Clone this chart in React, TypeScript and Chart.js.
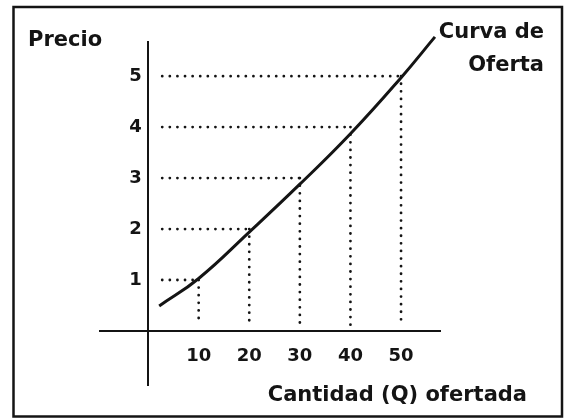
import React, { useEffect, useRef } from "react";
import { Chart, registerables } from "chart.js";

Chart.register(...registerables);

// Supply curve (Curva de Oferta)
const curveQ = [2.2, 10, 20, 30, 40, 50, 56.7];
const curveP = [0.49, 1.03, 1.94, 2.88, 3.87, 4.97, 5.77];

// Marked quantity / price pairs (dotted guides)
const markQ = [10, 20, 30, 40, 50];
const markP = [1, 2, 3, 4, 5];

// Tick labels
const xTicks = [10, 20, 30, 40, 50];
const yTicks = [1, 2, 3, 4, 5];

const yLabel = "Precio";
const xLabel = "Cantidad (Q) ofertada";
const curveLabel = ["Curva de", "Oferta"];

const FONT = '"DejaVu Sans", sans-serif';
const INK = "#141414";

export default function App() {
  const ref = useRef<HTMLCanvasElement | null>(null);

  useEffect(() => {
    if (!ref.current) return;

    const dotted: any[] = [];
    markQ.forEach((q, i) => {
      const p = markP[i];
      dotted.push({
        data: [
          { x: 2.8, y: p },
          { x: q, y: p },
        ],
        borderColor: INK,
        borderWidth: 2.8,
        borderDash: [0, 7.6],
        borderCapStyle: "round",
        pointRadius: 0,
        tension: 0,
      });
      dotted.push({
        data: [
          { x: q, y: p },
          { x: q, y: 0.12 },
        ],
        borderColor: INK,
        borderWidth: 2.8,
        borderDash: [0, 7.6],
        borderCapStyle: "round",
        pointRadius: 0,
        tension: 0,
      });
    });

    const framePlugin = {
      id: "frameAndText",
      beforeDraw(chart: any) {
        const ctx = chart.ctx;
        ctx.save();
        ctx.fillStyle = "#ffffff";
        ctx.fillRect(0, 0, chart.width, chart.height);
        ctx.strokeStyle = INK;
        ctx.lineWidth = 2.5;
        ctx.strokeRect(13.5, 7, 548.5, 409.5);
        ctx.restore();
      },
      afterDraw(chart: any) {
        const ctx = chart.ctx;
        ctx.save();
        ctx.fillStyle = INK;
        ctx.font = `bold 21px ${FONT}`;
        ctx.textBaseline = "alphabetic";
        ctx.textAlign = "left";
        ctx.fillText(yLabel, 28, 46);
        ctx.textAlign = "right";
        ctx.fillText(curveLabel[0], 544, 38);
        ctx.fillText(curveLabel[1], 544, 71);
        ctx.fillText(xLabel, 527, 401);
        ctx.restore();
      },
    };

    const chart = new Chart(ref.current, {
      type: "line",
      data: {
        datasets: [
          {
            data: curveQ.map((q, i) => ({ x: q, y: curveP[i] })),
            borderColor: INK,
            borderWidth: 3,
            pointRadius: 0,
            tension: 0.45,
            clip: false,
          } as any,
          ...dotted,
        ],
      },
      options: {
        animation: false,
        responsive: false,
        events: [],
        layout: { padding: { left: 100, right: 128, top: 42, bottom: 33 } },
        plugins: {
          legend: { display: false },
          tooltip: { enabled: false },
        },
        scales: {
          x: {
            type: "linear",
            min: -9.5,
            max: 57.7,
            position: { y: 0 } as any,
            afterBuildTicks: (s: any) => {
              s.ticks = xTicks.map((v) => ({ value: v }));
            },
            grid: { display: false, drawTicks: false },
            border: { display: true, color: INK, width: 2 },
            ticks: {
              padding: 15,
              color: INK,
              font: { family: FONT, size: 18, weight: "bold" },
              maxRotation: 0,
            },
          },
          y: {
            type: "linear",
            min: -1.06,
            max: 5.67,
            position: { x: 0 } as any,
            afterBuildTicks: (s: any) => {
              s.ticks = yTicks.map((v) => ({ value: v }));
            },
            grid: { display: false, drawTicks: false },
            border: { display: true, color: INK, width: 2 },
            ticks: {
              padding: 12,
              color: INK,
              font: { family: FONT, size: 18, weight: "bold" },
              callback: (v: any) => `${v} `,
            },
          },
        },
      },
      plugins: [framePlugin],
    });

    return () => chart.destroy();
  }, []);

  return (
    <div style={{ position: "absolute", left: 0, top: 0, width: 568, height: 418 }}>
      <canvas ref={ref} width={568} height={418} style={{ width: 568, height: 418, display: "block" }} />
    </div>
  );
}
